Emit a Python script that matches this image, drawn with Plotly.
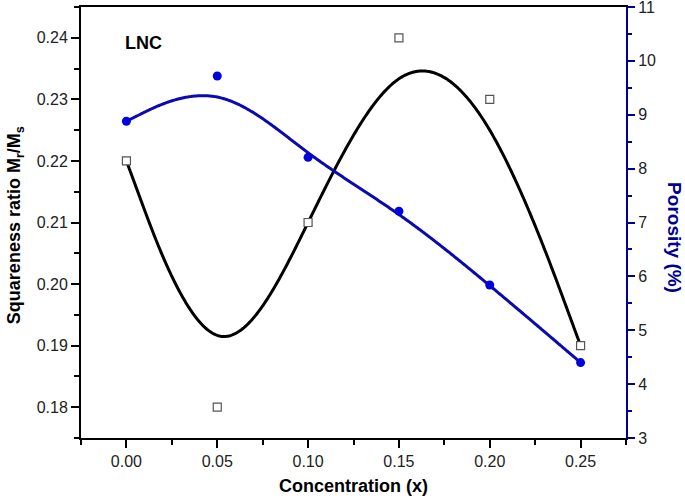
import numpy as np
import plotly.graph_objects as go

# ---- data ----
concentration = [0.00, 0.05, 0.10, 0.15, 0.20, 0.25]
squareness = [0.220, 0.180, 0.210, 0.240, 0.230, 0.190]
porosity = [8.88, 9.72, 8.21, 7.21, 5.84, 4.40]
x_ticks = [0.00, 0.05, 0.10, 0.15, 0.20, 0.25]
y_ticks = [0.18, 0.19, 0.20, 0.21, 0.22, 0.23, 0.24]
y2_ticks = [3, 4, 5, 6, 7, 8, 9, 10, 11]


def bspline_cubic(xs, ys, n=80):
    """Uniform cubic B-spline (end points tripled) using data points as control points."""
    P = np.column_stack([xs, ys]).astype(float)
    Q = np.vstack([P[0], P[0], P, P[-1], P[-1]])
    t = np.linspace(0, 1, n)[:, None]
    b0 = (1 - t) ** 3 / 6
    b1 = (3 * t ** 3 - 6 * t ** 2 + 4) / 6
    b2 = (-3 * t ** 3 + 3 * t ** 2 + 3 * t + 1) / 6
    b3 = t ** 3 / 6
    out = []
    for i in range(len(Q) - 3):
        seg = b0 * Q[i] + b1 * Q[i + 1] + b2 * Q[i + 2] + b3 * Q[i + 3]
        out.append(seg if i == 0 else seg[1:])
    pts = np.vstack(out)
    return pts[:, 0], pts[:, 1]


bx, by = bspline_cubic(concentration, squareness)
px, py = bspline_cubic(concentration, porosity)

FONT = "Liberation Sans, Arial, sans-serif"
BLUE_LINE = "#0A0AB0"
BLUE_MARK = "#0000E0"
NAVY = "#000090"

fig = go.Figure()
fig.add_trace(go.Scatter(x=bx, y=by, mode="lines",
                         line=dict(color="black", width=3, simplify=False),
                         hoverinfo="skip", showlegend=False))
fig.add_trace(go.Scatter(x=concentration, y=squareness, mode="markers",
                         marker=dict(symbol="square", size=8, color="white",
                                     line=dict(color="#555555", width=1.2)),
                         showlegend=False))
fig.add_trace(go.Scatter(x=px, y=py, mode="lines", yaxis="y2",
                         line=dict(color=BLUE_LINE, width=3, simplify=False),
                         hoverinfo="skip", showlegend=False))
fig.add_trace(go.Scatter(x=concentration, y=porosity, mode="markers", yaxis="y2",
                         marker=dict(symbol="circle", size=9, color=BLUE_MARK),
                         showlegend=False))

fig.add_annotation(x=-0.002, y=0.2392, xref="x", yref="y", text="<b>LNC</b>",
                   showarrow=False, xanchor="left", yanchor="middle",
                   font=dict(family=FONT, size=18, color="black"))

# axis titles placed as annotations for exact positioning
fig.add_annotation(x=0.5, y=-0.111, xref="paper", yref="paper",
                   text="<b>Concentration (x)</b>", showarrow=False,
                   xanchor="center", yanchor="middle",
                   font=dict(family=FONT, size=18, color="black"))
fig.add_annotation(x=-0.121, y=0.494, xref="paper", yref="paper",
                   text="<b>Squareness ratio M<sub>r</sub>/M<sub>s</sub></b>",
                   showarrow=False, textangle=-90,
                   xanchor="center", yanchor="middle",
                   font=dict(family=FONT, size=18, color="black"))
fig.add_annotation(x=1.090, y=0.466, xref="paper", yref="paper",
                   text="<b>Porosity (%)</b>", showarrow=False, textangle=90,
                   xanchor="center", yanchor="middle",
                   font=dict(family=FONT, size=19, color=NAVY))

fig.update_layout(
    width=685, height=502,
    margin=dict(l=81, r=59, t=7, b=64, autoexpand=False),
    paper_bgcolor="white", plot_bgcolor="white",
    font=dict(family=FONT, size=16, color="#222222"),
    xaxis=dict(
        range=[-0.025, 0.275], tickvals=x_ticks, tickformat=".2f",
        ticks="outside", ticklen=8, tickwidth=1.5, tickcolor="black",
        minor=dict(ticks="outside", ticklen=5, tickwidth=1.5, dtick=0.025,
                   tick0=0, tickcolor="black"),
        showline=True, linecolor="black", linewidth=2, mirror=True,
        showgrid=False, zeroline=False, automargin=False,
        ticklabeloverflow="allow",
        tickfont=dict(size=16, color="#222222"),
    ),
    yaxis=dict(
        range=[0.175, 0.245], tickvals=y_ticks, tickformat=".2f",
        ticks="outside", ticklen=8, tickwidth=1.5, tickcolor="black",
        minor=dict(ticks="outside", ticklen=5, tickwidth=1.5, dtick=0.005,
                   tick0=0.175, tickcolor="black"),
        showline=True, linecolor="black", linewidth=2,
        showgrid=False, zeroline=False, automargin=False,
        ticklabeloverflow="allow",
        tickfont=dict(size=16, color="#222222"),
    ),
    yaxis2=dict(
        range=[3, 11], tickvals=y2_ticks, overlaying="y", side="right",
        ticks="outside", ticklen=7, tickwidth=1.5, tickcolor=NAVY,
        minor=dict(ticks="outside", ticklen=4, tickwidth=1.5, dtick=0.5,
                   tick0=3, tickcolor=NAVY),
        showline=True, linecolor=NAVY, linewidth=2,
        showgrid=False, zeroline=False, automargin=False,
        ticklabeloverflow="allow",
        tickfont=dict(size=16, color="#222222"),
    ),
)

fig.write_html("out.html",
               config={"displayModeBar": False},
               post_script="document.body.style.margin='0';"
                           "document.body.style.overflow='hidden';")
